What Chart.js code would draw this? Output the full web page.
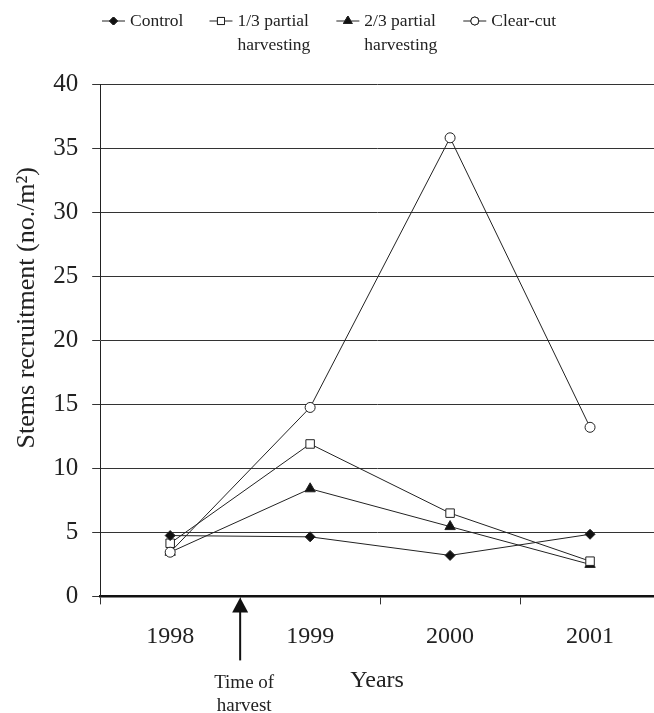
<!DOCTYPE html>
<html>
<head>
<meta charset="utf-8">
<script src="https://cdn.jsdelivr.net/npm/chart.js@4"></script>
<style>
  html, body { margin: 0; padding: 0; background: #fff; }
  #wrap { width: 654px; height: 713px; }
</style>
</head>
<body>
<div id="wrap"><canvas id="myChart" width="654" height="713"></canvas></div>
<script>

const years = [1998, 1999, 2000, 2001]

const control = [4.75, 4.65, 3.2, 4.85]
const partial13 = [4.15, 11.9, 6.5, 2.75]
const partial23 = [3.45, 8.4, 5.45, 2.5]
const clearCut = [3.45, 14.75, 35.8, 13.2]

const seriesNames = [['Control'], ['1/3 partial', 'harvesting'], ['2/3 partial', 'harvesting'], ['Clear-cut']]

const harvestTime = 1998.5

const serif = 'Liberation Serif'

function toPoints(vals){
  return vals.map((v, i) => ({x: years[i], y: v}))
}

function makeSet(name, vals, style, fill, radius, order){
  return {
    label: name.join(' '),
    legendText: name,
    data: toPoints(vals),
    order: order,
    borderColor: '#222',
    borderWidth: 1,
    pointStyle: style,
    pointRadius: radius,
    pointBackgroundColor: fill,
    pointBorderColor: '#222',
    pointBorderWidth: 1,
    fill: false,
    tension: 0
  }
}

let dsets = [
  makeSet(seriesNames[0], control, 'rectRot', '#111', 5, 1),
  makeSet(seriesNames[1], partial13, 'rect', '#fff', 6, 2),
  makeSet(seriesNames[2], partial23, 'triangle', '#111', 6, 3),
  makeSet(seriesNames[3], clearCut, 'circle', '#fff', 5, 0)
]

// legend drawn by hand: line + marker, text may wrap on two lines
const lineLegend = {
  id: 'lineLegend',
  afterDraw(chart){
    const ctx = chart.ctx
    ctx.save()
    ctx.font = '17.5px "' + serif + '"'
    ctx.fillStyle = '#222'
    ctx.textBaseline = 'middle'
    let x = 102
    const y = 21
    chart.data.datasets.forEach(ds => {
      ctx.strokeStyle = '#222'
      ctx.lineWidth = 1
      ctx.beginPath()
      ctx.moveTo(x, y)
      ctx.lineTo(x + 23, y)
      ctx.stroke()
      Chart.helpers.drawPoint(ctx, {
        pointStyle: ds.pointStyle,
        radius: ds.pointRadius - 1,
        borderWidth: 1,
        rotation: 0
      }, x + 11.5, y)
      ctx.fillStyle = ds.pointBackgroundColor
      ctx.fill()
      ctx.stroke()
      ctx.fillStyle = '#222'
      let w = 0
      ds.legendText.forEach((t, i) => {
        ctx.fillText(t, x + 28, y + i * 24)
        w = Math.max(w, ctx.measureText(t).width)
      })
      x = x + 28 + w + 26
    })
    ctx.restore()
  }
}

// arrow under the x axis marking the harvest
const harvestArrow = {
  id: 'harvestArrow',
  afterDraw(chart){
    const ctx = chart.ctx
    const xs = chart.scales.x
    const px = xs.getPixelForValue(harvestTime)
    const top = chart.chartArea.bottom + 1
    ctx.save()
    ctx.fillStyle = '#111'
    ctx.strokeStyle = '#111'
    ctx.lineWidth = 2
    ctx.beginPath()
    ctx.moveTo(px, top + 10)
    ctx.lineTo(px, top + 63)
    ctx.stroke()
    ctx.beginPath()
    ctx.moveTo(px, top)
    ctx.lineTo(px - 8, top + 15)
    ctx.lineTo(px + 8, top + 15)
    ctx.closePath()
    ctx.fill()
    ctx.font = '19px "' + serif + '"'
    ctx.textAlign = 'center'
    ctx.textBaseline = 'middle'
    ctx.fillStyle = '#222'
    ctx.fillText('Time of', px + 4, top + 86)
    ctx.fillText('harvest', px + 4, top + 109)
    ctx.restore()
  }
}

new Chart(
  document.getElementById('myChart'),
  {
    type: 'line',
    data: {
      datasets: dsets
    },
    options: {
      responsive: false,
      animation: false,
      layout: {
        autoPadding: false,
        padding: {top: 84, right: 0, left: 12, bottom: 18}
      },
      plugins: {
        legend: {display: false},
        tooltip: {enabled: false}
      },
      scales: {
        x: {
          type: 'linear',
          min: 1997.5,
          max: 2001.457,
          border: {display: true, color: '#111', width: 2.5},
          grid: {
            drawOnChartArea: false,
            drawTicks: true,
            tickLength: 8,
            tickColor: c => (c.tick && c.tick.value % 1 === 0) ? 'rgba(0,0,0,0)' : '#333'
          },
          ticks: {
            stepSize: 0.5,
            includeBounds: false,
            autoSkip: false,
            maxRotation: 0,
            padding: 18,
            color: '#222',
            font: {family: serif, size: 24},
            callback: v => (v % 1 === 0 ? String(v) : '')
          },
          title: {
            display: true,
            text: 'Years',
            color: '#222',
            font: {family: serif, size: 24},
            padding: {top: -3, bottom: 0}
          }
        },
        y: {
          min: 0,
          max: 40,
          border: {display: true, color: '#222', width: 1},
          grid: {
            color: '#333',
            lineWidth: 1,
            tickLength: 8
          },
          ticks: {
            stepSize: 5,
            padding: 14,
            color: '#222',
            font: {family: serif, size: 25}
          },
          title: {
            display: true,
            text: '\u2002\u2002\u2002\u2002\u2002Stems recruitment (no./m\u00B2)',
            color: '#222',
            font: {family: serif, size: 26},
            padding: {top: 0, bottom: -4}
          }
        }
      }
    },
    plugins: [lineLegend, harvestArrow]
  }
)

</script>
</body>
</html>
